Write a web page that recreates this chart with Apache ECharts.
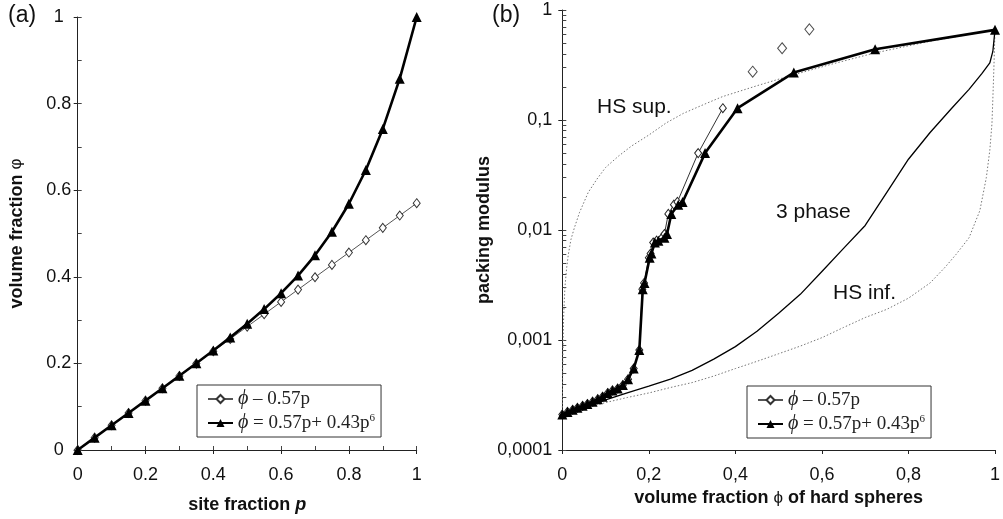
<!DOCTYPE html>
<html>
<head>
<meta charset="utf-8">
<script src="https://cdn.jsdelivr.net/npm/echarts@6/dist/echarts.min.js"></script>
<style>
  html, body { margin: 0; padding: 0; background: #fff; }
  #chart { width: 1003px; height: 519px; }
</style>
</head>
<body>
<div id="chart"></div>
<script>
// panel (a): volume fraction vs site fraction
const siteFraction = [0, 0.05, 0.1, 0.15, 0.2, 0.25, 0.3, 0.35, 0.4, 0.45, 0.5,
  0.55, 0.6, 0.65, 0.7, 0.75, 0.8, 0.85, 0.9, 0.95, 1];
const volLinear = [0, 0.0285, 0.057, 0.0855, 0.114, 0.1425, 0.171, 0.1995, 0.228, 0.2565, 0.285,
  0.3135, 0.342, 0.3705, 0.399, 0.4275, 0.456, 0.4845, 0.513, 0.5415, 0.57];
const volPoly = [0, 0.0285, 0.057, 0.0855, 0.114, 0.1426, 0.1713, 0.2003, 0.2298, 0.2601, 0.2917,
  0.3254, 0.3621, 0.4029, 0.4496, 0.504, 0.5687, 0.6467, 0.7415, 0.8576, 1];

// panel (b): packing modulus vs volume fraction
const modPoly = [[0, 0.00021], [0.012, 0.000222], [0.024, 0.000232], [0.035, 0.000242],
  [0.047, 0.000252], [0.058, 0.000262], [0.07, 0.000275], [0.082, 0.00029], [0.093, 0.000305],
  [0.105, 0.00033], [0.116, 0.000348], [0.128, 0.000362], [0.14, 0.00039], [0.152, 0.00044],
  [0.165, 0.00055], [0.178, 0.00081], [0.186, 0.0029], [0.19, 0.0033], [0.202, 0.0056],
  [0.206, 0.0061], [0.214, 0.0077], [0.222, 0.008], [0.236, 0.0085], [0.242, 0.0092],
  [0.252, 0.014], [0.268, 0.017], [0.278, 0.018], [0.33, 0.05], [0.405, 0.128],
  [0.535, 0.27], [0.723, 0.44], [1, 0.66]];
const modLinear = [[0, 0.00021], [0.012, 0.000222], [0.024, 0.000232], [0.035, 0.000242],
  [0.047, 0.000252], [0.058, 0.000262], [0.07, 0.000275], [0.082, 0.00029], [0.093, 0.000305],
  [0.105, 0.00033], [0.116, 0.000348], [0.128, 0.000362], [0.14, 0.00039], [0.152, 0.00044],
  [0.165, 0.00055], [0.178, 0.00081], [0.185, 0.0029], [0.189, 0.0033], [0.2, 0.0056],
  [0.204, 0.0061], [0.21, 0.0077], [0.218, 0.008], [0.23, 0.0085], [0.236, 0.0092],
  [0.245, 0.014], [0.258, 0.017], [0.266, 0.018], [0.314, 0.05], [0.371, 0.128]];
const modLinearLoose = [[0.44, 0.275], [0.508, 0.449], [0.571, 0.667]];
const hsSup = [[0, 0.00021], [0.001, 0.0006], [0.003, 0.0016], [0.006, 0.003], [0.01, 0.0045],
  [0.014, 0.006], [0.02, 0.0082], [0.028, 0.0105], [0.04, 0.0145], [0.06, 0.022], [0.08, 0.029],
  [0.1, 0.037], [0.13, 0.047], [0.16, 0.058], [0.2, 0.073], [0.24, 0.094], [0.28, 0.115],
  [0.33, 0.14], [0.37, 0.163], [0.45, 0.205], [0.52, 0.248], [0.62, 0.32], [0.72, 0.405],
  [0.85, 0.52], [1, 0.66]];
const hsInf = [[0, 0.00021], [0.05, 0.000238], [0.1, 0.00027], [0.15, 0.0003], [0.2, 0.00033],
  [0.25, 0.00037], [0.3, 0.00041], [0.35, 0.00047], [0.4, 0.00055], [0.45, 0.00064],
  [0.5, 0.00075], [0.55, 0.00088], [0.6, 0.00105], [0.65, 0.0013], [0.7, 0.0016], [0.75, 0.0019],
  [0.8, 0.0024], [0.85, 0.0033], [0.885, 0.0046], [0.91, 0.006], [0.94, 0.0085], [0.965, 0.015],
  [0.98, 0.03], [0.988, 0.053], [0.993, 0.093], [0.996, 0.2], [0.998, 0.35], [1, 0.66]];
const threePhase = [[0, 0.00021], [0.05, 0.00024], [0.1, 0.000285], [0.15, 0.00033], [0.2, 0.00038],
  [0.25, 0.00044], [0.3, 0.00053], [0.35, 0.00067], [0.4, 0.00087], [0.45, 0.0012],
  [0.5, 0.00175], [0.55, 0.0026], [0.6, 0.0042], [0.65, 0.0068], [0.7, 0.011], [0.75, 0.022],
  [0.8, 0.044], [0.85, 0.077], [0.9, 0.128], [0.94, 0.19], [0.97, 0.265], [0.988, 0.33],
  [0.995, 0.42], [0.998, 0.55], [1, 0.66]];

// log minor tick positions 1..9 × each decade
const logMinorTicks = [];
[0.0001, 0.001, 0.01, 0.1].forEach((d) => {
  for (let k = 1; k < 10; k++) logMinorTicks.push(+(d * k).toPrecision(3));
});
logMinorTicks.push(1);

const SANS = "Liberation Sans";
const SERIF = "Liberation Serif";
const AXIS = "#222";

const chart = echarts.init(document.getElementById("chart"));

const tickLabel = { color: "#111", fontFamily: SANS, fontSize: 18 };
const nameStyle = {
  color: "#111", fontFamily: SANS, fontSize: 18, fontWeight: "bold",
  rich: {
    it: { fontFamily: SANS, fontSize: 18, fontWeight: "bold", fontStyle: "italic", color: "#111" },
    phi: { fontFamily: SANS, fontSize: 17, fontWeight: "normal", color: "#111" },
  },
};
const commaFmt = (v) => String(v).replace(".", ",");
const mainLine = { show: true, lineStyle: { color: AXIS, width: 1 } };
const outTick = { show: true, length: 4, lineStyle: { color: AXIS, width: 1 } };
const inTick = { show: true, inside: true, length: 4, lineStyle: { color: "#444", width: 1 } };

const legendBase = {
  orient: "vertical",
  itemWidth: 25,
  itemHeight: 10,
  itemGap: 4,
  padding: [4, 6, 4, 10],
  borderColor: "#333",
  borderWidth: 1,
  backgroundColor: "#fff",
  data: ["lin", "poly"],
  selectedMode: false,
  formatter: (name) => name === "lin" ? "{i|\u03d5} \u2013 0.57p" : "{i|\u03d5} = 0.57p+ 0.43p{s|6}",
  textStyle: {
    fontFamily: SERIF, fontSize: 19, color: "#222", lineHeight: 20,
    rich: {
      i: { fontFamily: SERIF, fontStyle: "italic", fontSize: 20, color: "#222", lineHeight: 20 },
      s: { fontFamily: SERIF, fontSize: 11, color: "#222", verticalAlign: "top", lineHeight: 20 },
    },
  },
};

chart.setOption({
  animation: false,
  backgroundColor: "#fff",
  grid: [
    { left: 77.7, right: 586.3, top: 17, bottom: 69 },
    { left: 562.3, right: 2.7, top: 10, bottom: 69 },
  ],
  legend: [
    Object.assign({}, legendBase, { left: 197, top: 385 }),
    Object.assign({}, legendBase, { left: 747, top: 386 }),
  ],
  graphic: [
    { type: "text", left: 8, top: 4, style: { text: "(a)", font: `23px "${SANS}"`, fill: "#111" } },
    { type: "text", left: 492, top: 4, style: { text: "(b)", font: `23px "${SANS}"`, fill: "#111" } },
    { type: "text", left: 597, top: 97, style: { text: "HS sup.", font: `21px "${SANS}"`, fill: "#111" } },
    { type: "text", left: 776, top: 202, style: { text: "3 phase", font: `21px "${SANS}"`, fill: "#111" } },
    { type: "text", left: 833, top: 283, style: { text: "HS inf.", font: `21px "${SANS}"`, fill: "#111" } },
  ],
  xAxis: [
    {
      gridIndex: 0, type: "value", min: 0, max: 1, interval: 0.2, position: "bottom",
      name: "site fraction {it|p}", nameLocation: "middle", nameGap: 46, nameTextStyle: nameStyle,
      axisLine: mainLine, axisTick: outTick,
      axisLabel: Object.assign({ margin: 16 }, tickLabel),
      splitLine: { show: false },
    },
    {
      // overlay axis: inner ticks every 0.1
      gridIndex: 0, type: "value", min: 0, max: 1, interval: 0.1, position: "bottom",
      axisLine: { show: false }, axisTick: inTick,
      axisLabel: { show: false },
      splitLine: { show: false },
    },
    {
      gridIndex: 1, type: "value", min: 0, max: 1, interval: 0.2, position: "bottom",
      name: "volume fraction {phi|\u03d5} of hard spheres", nameLocation: "middle", nameGap: 34,
      nameTextStyle: nameStyle,
      axisLine: mainLine, axisTick: outTick,
      axisLabel: Object.assign({ margin: 16, formatter: commaFmt }, tickLabel),
      splitLine: { show: false },
    },
  ],
  yAxis: [
    {
      gridIndex: 0, type: "value", min: 0, max: 1, interval: 0.2, position: "left",
      name: "volume fraction {phi|\u03c6}", nameLocation: "middle", nameGap: 52, nameTextStyle: nameStyle,
      axisLine: mainLine, axisTick: outTick,
      axisLabel: Object.assign({ margin: 19, align: "center" }, tickLabel),
      splitLine: { show: false },
    },
    {
      gridIndex: 0, type: "value", min: 0, max: 1, interval: 0.1, position: "left",
      axisLine: { show: false }, axisTick: inTick,
      axisLabel: { show: false },
      splitLine: { show: false },
    },
    {
      gridIndex: 1, type: "log", logBase: 10, min: 0.0001, max: 1, position: "left",
      name: "packing modulus", nameLocation: "middle", nameGap: 43, nameTextStyle: nameStyle,
      axisLine: mainLine, axisTick: outTick,
      axisLabel: Object.assign({ margin: 10, formatter: commaFmt }, tickLabel),
      splitLine: { show: false },
    },
    {
      gridIndex: 1, type: "log", logBase: 10, min: 0.0001, max: 1, position: "left",
      axisLine: { show: false },
      axisTick: Object.assign({ customValues: logMinorTicks }, inTick),
      axisLabel: { show: false },
      splitLine: { show: false },
    },
  ],
  series: [
    {
      // on the overlay axes (same scale) so their inner ticks are drawn
      name: "lin", type: "line", xAxisIndex: 1, yAxisIndex: 1, clip: false,
      data: siteFraction.map((p, i) => [p, volLinear[i]]),
      symbol: "diamond", symbolSize: [7, 9],
      lineStyle: { color: "#555", width: 1 },
      itemStyle: { color: "#fff", borderColor: "#333", borderWidth: 1 },
      z: 3,
    },
    {
      name: "poly", type: "line", xAxisIndex: 0, yAxisIndex: 0, clip: false,
      data: siteFraction.map((p, i) => [p, volPoly[i]]),
      symbol: "triangle", symbolSize: 10,
      lineStyle: { color: "#000", width: 2.6 },
      itemStyle: { color: "#000" },
      z: 4,
    },
    {
      name: "HS sup.", type: "line", xAxisIndex: 2, yAxisIndex: 2, data: hsSup,
      showSymbol: false, symbol: "none",
      lineStyle: { color: "#777", width: 1, type: [1.5, 2] },
    },
    {
      name: "HS inf.", type: "line", xAxisIndex: 2, yAxisIndex: 2, data: hsInf,
      showSymbol: false, symbol: "none",
      lineStyle: { color: "#777", width: 1, type: [1.5, 2] },
    },
    {
      name: "3 phase", type: "line", xAxisIndex: 2, yAxisIndex: 2, data: threePhase,
      showSymbol: false, symbol: "none",
      lineStyle: { color: "#000", width: 1.3 },
    },
    {
      name: "lin", type: "line", xAxisIndex: 2, yAxisIndex: 3, data: modLinear, clip: false,
      symbol: "diamond", symbolSize: [7, 9],
      lineStyle: { color: "#333", width: 1 },
      itemStyle: { color: "#fff", borderColor: "#222", borderWidth: 1 },
      z: 3,
    },
    {
      name: "linLoose", type: "scatter", xAxisIndex: 2, yAxisIndex: 3, data: modLinearLoose,
      symbol: "diamond", symbolSize: [9, 11],
      itemStyle: { color: "#fff", borderColor: "#222", borderWidth: 1 },
      z: 3,
    },
    {
      name: "poly", type: "line", xAxisIndex: 2, yAxisIndex: 2, data: modPoly, clip: false,
      symbol: "triangle", symbolSize: 10,
      lineStyle: { color: "#000", width: 2.6 },
      itemStyle: { color: "#000" },
      z: 4,
    },
  ],
});
</script>
</body>
</html>
